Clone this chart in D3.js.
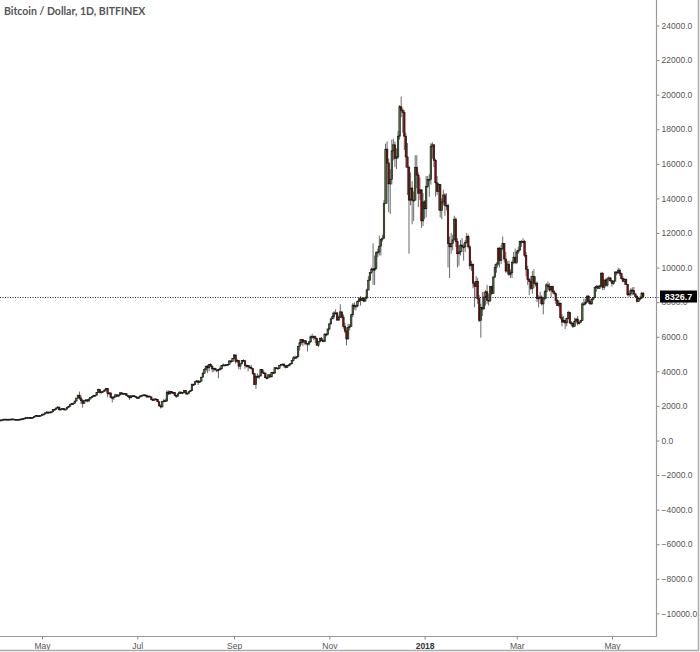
<!DOCTYPE html>
<html>
<head>
<meta charset="utf-8">
<script src="https://cdn.jsdelivr.net/npm/d3@7/dist/d3.min.js"></script>
<style>
  html, body { margin: 0; padding: 0; background: #fff; }
  svg { display: block; }
</style>
</head>
<body>
<svg id="chart" width="700" height="652"></svg>
<script>
// ---------- DATA (Bitcoin / Dollar, 1D, BITFINEX) ----------
const title = "Bitcoin / Dollar, 1D, BITFINEX";
const firstDay = "2017-04-03";
const firstOpen = 1150;
const lastPrice = 8326.7;

const closes = [
  // Apr 2017
  1180,1190,1175,1230,1235,1220,1230,1235,1240,1245,1205,1220,1222,1225,1240,1255,1262,1300,1322,1312,1320,1318,1340,1385,1440,1420,1432,1452,
  // May 2017
  1520,1530,1600,1640,1620,1645,1660,1790,1800,1880,1930,1780,1820,1840,1780,1820,1900,1980,2090,2130,2150,2280,2450,2620,2450,2300,2150,2300,2350,2280,2400,
  // Jun 2017
  2500,2540,2600,2620,2780,2950,2780,2820,2840,2920,3000,2720,2750,2500,2480,2520,2640,2560,2630,2760,2690,2710,2720,2600,2570,2470,2580,2590,2560,2500,
  // Jul 2017
  2440,2520,2580,2600,2640,2620,2520,2570,2520,2360,2340,2400,2370,2240,2000,1940,2250,2300,2280,2800,2700,2830,2760,2770,2600,2560,2700,2800,2730,2780,2890,
  // Aug 2017
  2740,2720,2820,2880,3250,3230,3400,3450,3350,3430,3660,3880,4100,4300,4200,4400,4300,4140,4180,4080,4050,4100,4150,4340,4370,4360,4380,4400,4600,4580,4740,
  // Sep 2017
  4950,4580,4630,4300,4430,4630,4610,4330,4330,4260,4220,4160,3880,3240,3700,3710,3730,4100,3920,3900,3630,3620,3800,3680,3930,3890,4210,4190,4170,4340,
  // Oct 2017
  4400,4410,4320,4230,4330,4370,4440,4620,4780,4790,4840,5440,5650,5830,5690,5770,5600,5580,5710,6000,6010,6000,5900,5510,5730,5890,5770,5740,6150,6130,6450,
  // Nov 2017
  6740,7030,7160,7380,7380,6960,7130,7440,7140,6600,6330,5870,6530,6600,7270,7830,7740,7780,8040,8200,8100,8230,8060,8240,8700,9270,9720,9920,9850,9950,
  // Dec 2017
  10860,10900,11240,11640,11700,13700,16850,16050,14840,15100,16750,17100,16300,16400,17600,19300,19100,18960,17600,16400,15800,13900,14600,13900,13900,15800,15350,14300,14500,12700,13800,
  // Jan 2018
  13400,14700,15100,15100,17000,17100,16200,14900,14400,14800,13300,13800,14200,13600,13600,11400,11200,11400,11600,12800,11500,10800,10900,11300,11200,11200,11450,11800,11200,10100,10200,
  // Feb 2018
  9100,8900,9200,8200,6950,7700,7600,8300,8600,8100,8100,8900,8500,9450,10000,10200,11100,10400,11100,11400,10500,9800,10200,9600,9700,10300,10600,10300,
  // Mar 2018
  10900,11000,11500,11500,11500,10700,9900,9300,9200,8800,9500,9100,9100,8200,8250,8300,7900,8200,8600,9000,8900,8700,8900,8600,8500,8100,7800,7950,7100,6850,6930,
  // Apr 2018
  6800,7050,7400,6800,6780,6600,6900,7020,6770,6830,6930,7900,7900,8000,8350,8050,7900,8170,8280,8850,8900,8800,8930,9650,8860,9280,8980,9340,9400,9240,
  // May 2018
  9070,9220,9740,9700,9850,9650,9380,9200,9300,9020,8430,8480,8700,8680,8480,8340,8050,8230,8230,8520,8326.7
];

const highs = [
  1195,1200,1200,1240,1245,1240,1240,1245,1250,1255,1250,1230,1235,1235,1250,1265,1275,1310,1335,1330,1330,1330,1350,1395,1460,1450,1440,1460,
  1530,1550,1610,1700,1680,1660,1680,1800,1850,1900,1990,1950,1850,1860,1850,1840,1910,2000,2100,2160,2200,2300,2460,2650,2830,2600,2400,2340,2380,2400,2420,
  2510,2560,2620,2640,2800,3000,2980,2850,2880,2960,3010,3000,2800,2780,2560,2560,2680,2660,2660,2800,2800,2760,2750,2730,2640,2620,2620,2620,2620,2580,
  2540,2540,2620,2650,2660,2660,2640,2580,2580,2540,2420,2430,2450,2400,2250,2080,2270,2400,2420,2900,2900,2880,2850,2800,2780,2620,2710,2840,2820,2790,2900,
  2920,2760,2830,2930,3300,3290,3420,3490,3470,3450,3680,3980,4200,4320,4380,4420,4480,4350,4200,4200,4120,4150,4280,4360,4460,4400,4420,4440,4650,4650,4760,
  4980,4950,4720,4630,4480,4650,4700,4640,4390,4330,4370,4370,4180,3900,3800,3870,3800,4130,4130,4050,3920,3750,3830,3800,3950,3980,4220,4240,4220,4360,
  4420,4470,4470,4350,4370,4420,4470,4630,4880,4920,4880,5450,5860,5850,5860,5790,5780,5640,5740,6080,6180,6080,6060,5900,5750,5980,6000,5820,6200,6220,6460,
  6800,7100,7400,7480,7590,7420,7230,7880,7450,7300,6800,6550,6750,6740,7330,7950,8000,7850,8100,8300,8350,8290,8290,8330,8780,9500,9740,10000,11400,10700,
  10950,11100,11850,11650,11900,13900,17170,17300,16300,15700,17400,17450,17300,16900,17900,19400,19890,19200,19100,17800,17200,15900,15500,15000,14400,16500,16500,15500,15200,14500,14300,
  13900,15300,15300,15400,17200,17250,17100,16300,15300,14900,14800,14000,14500,14300,14300,13700,11800,12000,11900,13000,12900,11700,11300,11600,11700,11400,11600,12000,11900,11300,10400,
  10200,9200,9500,9400,8400,7900,8600,8600,8700,9000,8500,8900,8950,9500,10200,10300,11200,11200,11300,11800,11300,10900,10400,10400,9900,10400,10900,11100,
  11000,11200,11550,11600,11700,11600,10900,10100,9400,9500,9800,9900,9500,9200,8400,8600,8400,8300,8700,9100,9200,9100,8950,8950,8700,8550,8200,8100,7950,7300,7200,
  7050,7100,7500,7450,6900,6850,7100,7100,7200,6900,6980,8000,8200,8200,8400,8400,8150,8240,8300,8900,9000,9000,9000,9750,9750,9300,9380,9440,9500,9450,
  9250,9250,9800,9800,9990,9950,9700,9500,9380,9380,9020,8650,8800,8860,8880,8500,8400,8280,8360,8600,8580
];

const lows = [
  1145,1165,1160,1170,1220,1210,1215,1220,1230,1235,1195,1200,1210,1215,1220,1235,1245,1255,1295,1295,1300,1305,1310,1335,1380,1400,1410,1420,
  1440,1480,1520,1580,1560,1600,1630,1650,1760,1790,1860,1720,1750,1800,1740,1760,1800,1890,1970,2060,2080,2140,2270,2440,2350,2100,1900,2150,2250,2200,2250,
  2380,2460,2500,2560,2610,2760,2720,2700,2800,2830,2900,2500,2640,2450,2200,2350,2480,2540,2540,2620,2650,2640,2690,2560,2500,2350,2440,2540,2530,2470,
  2400,2400,2500,2560,2570,2580,2480,2480,2500,2320,2280,2290,2340,2220,1980,1850,1930,2200,2240,2270,2620,2650,2700,2700,2560,2460,2540,2700,2700,2680,2760,
  2650,2650,2700,2800,2870,3180,3200,3360,3210,3330,3420,3650,3870,4000,3900,4000,4260,3950,3970,4050,3950,3600,4050,4100,4300,4330,4320,4330,4380,4500,4570,
  4730,4450,4480,4120,4100,4420,4550,4150,4220,4000,4150,4100,3800,3200,2980,3600,3550,3720,3870,3870,3600,3540,3600,3650,3680,3870,3890,4140,4100,4140,
  4280,4360,4200,4170,4190,4300,4340,4420,4570,4740,4720,4830,5200,5530,5450,5550,5500,5150,5490,5640,5880,5790,5630,5480,5400,5650,5740,5690,5700,6020,6080,
  6370,6720,7030,7060,7300,6950,6930,7080,7050,6470,6200,5500,5860,6370,6620,7130,7570,7520,7700,8000,7800,8100,8000,8040,8180,8690,9240,9640,9000,9000,
  9900,10600,10700,10700,11500,11700,13700,13700,13200,13100,14800,16200,15800,15700,16300,17400,18700,17800,16800,15800,14200,10800,13600,12500,12700,13900,14600,13500,13900,12300,12400,
  12800,12900,14600,14100,14800,16300,15800,14100,14200,13300,12900,12800,13600,13000,13300,10000,9400,10800,11000,11600,11200,10000,10100,10700,10900,10400,10900,11400,11100,9900,9800,
  8800,7700,8200,7900,6850,5950,7200,7600,7800,7900,7800,8000,8400,8500,9400,9700,10100,10000,10200,11000,10300,9700,9600,9500,9400,9400,10200,10200,
  10200,10800,11000,11200,11400,10600,9500,9000,8400,8700,8500,8800,8900,8000,7700,7900,7800,7300,8100,8200,8800,8600,8300,8500,8400,7900,7800,7700,7000,6600,6800,
  6450,6600,7000,6750,6600,6500,6580,6900,6650,6700,6800,6900,7800,7820,8000,7900,7850,7850,8100,8220,8600,8750,8780,8900,8700,8700,8900,8900,9200,9150,
  8900,9000,9200,9550,9650,9500,9300,9150,9000,9000,8350,8300,8350,8400,8400,8250,7980,8000,8100,8200,8250
];

const yTicks = [-10000,-8000,-6000,-4000,-2000,0,2000,4000,6000,8000,10000,12000,14000,16000,18000,20000,22000,24000];
const xTickDates = ["2017-05-01","2017-07-01","2017-09-01","2017-11-01","2018-01-01","2018-03-01","2018-05-01"];
const xTickLabels = ["May","Jul","Sep","Nov","2018","Mar","May"];

// ---------- BUILD ----------
const parse = d3.utcParse("%Y-%m-%d");
const t0 = parse(firstDay);
const candles = closes.map((c, i) => ({
  date: d3.utcDay.offset(t0, i),
  open: i === 0 ? firstOpen : closes[i - 1],
  high: highs[i],
  low: lows[i],
  close: c
}));

const W = 700, H = 652;
const plotRight = 656, plotBottom = 636;

const x = d3.scaleUtc()
  .domain([parse("2017-05-01"), parse("2018-05-01")])
  .range([42, 612]);
const y = d3.scaleLinear()
  .domain([0, 24000])
  .range([440.5, 25.5]);

const svg = d3.select("#chart");
svg.append("rect").attr("width", W).attr("height", H).attr("fill", "#fff");

svg.append("defs").append("clipPath").attr("id", "plotclip")
  .append("rect").attr("x", 0).attr("y", 0).attr("width", plotRight).attr("height", plotBottom);

const plot = svg.append("g").attr("clip-path", "url(#plotclip)");

const green = "#4e7d3a", red = "#a80000";
const bodyW = 1.5;

// wicks
plot.append("g").selectAll("line").data(candles).join("line")
  .attr("x1", d => x(d.date)).attr("x2", d => x(d.date))
  .attr("y1", d => y(Math.max(d.high, d.open, d.close)))
  .attr("y2", d => y(Math.min(d.low, d.open, d.close)))
  .attr("stroke", "#6a6a6a").attr("stroke-width", 1);

// bodies
plot.append("g").selectAll("rect").data(candles).join("rect")
  .attr("x", d => x(d.date) - bodyW / 2)
  .attr("width", bodyW)
  .attr("y", d => y(Math.max(d.open, d.close)))
  .attr("height", d => Math.max(1, Math.abs(y(d.open) - y(d.close))))
  .attr("fill", d => d.close >= d.open ? green : red)
  .attr("stroke", "#111").attr("stroke-width", 0.6);

// last price dotted line
svg.append("line")
  .attr("x1", 0).attr("x2", 661)
  .attr("y1", Math.round(y(lastPrice)) + 0.5).attr("y2", Math.round(y(lastPrice)) + 0.5)
  .attr("stroke", "#222").attr("stroke-width", 1).attr("stroke-dasharray", "1,1.5");

// right axis
const yAxis = d3.axisRight(y).tickValues(yTicks).tickSize(3).tickPadding(2)
  .tickFormat(d => d3.format(".1f")(d));
const gy = svg.append("g").attr("transform", `translate(${plotRight + 0.5},0)`).call(yAxis);
gy.select(".domain").remove();
gy.selectAll(".tick line").attr("stroke", "#888");
gy.selectAll(".tick text").attr("fill", "#555")
  .style("font-family", "'Liberation Sans', Arial, sans-serif").style("font-size", "8.5px");

// bottom axis
const xAxis = d3.axisBottom(x).tickValues(xTickDates.map(parse)).tickSize(3).tickPadding(3)
  .tickFormat((d, i) => xTickLabels[i]);
const gx = svg.append("g").attr("transform", `translate(0,${plotBottom + 0.5})`).call(xAxis);
gx.select(".domain").remove();
gx.selectAll(".tick line").attr("stroke", "#888");
gx.selectAll(".tick text").attr("fill", (d, i) => xTickLabels[i] === "2018" ? "#333" : "#555")
  .style("font-family", "'Liberation Sans', Arial, sans-serif").style("font-size", "8.5px")
  .style("font-weight", (d, i) => xTickLabels[i] === "2018" ? "bold" : "normal");

// axis lines and frame
svg.append("line").attr("x1", plotRight + 0.5).attr("x2", plotRight + 0.5).attr("y1", 0).attr("y2", plotBottom + 1)
  .attr("stroke", "#999").attr("stroke-width", 1.2);
svg.append("line").attr("x1", 0).attr("x2", plotRight + 1).attr("y1", plotBottom + 0.5).attr("y2", plotBottom + 0.5)
  .attr("stroke", "#999").attr("stroke-width", 1.2);
svg.append("line").attr("x1", 698.5).attr("x2", 698.5).attr("y1", 0).attr("y2", 651)
  .attr("stroke", "#aaa").attr("stroke-width", 1.5);
svg.append("line").attr("x1", 0).attr("x2", 699).attr("y1", 650.5).attr("y2", 650.5)
  .attr("stroke", "#aaa").attr("stroke-width", 1.5);

// last price label
const ly = y(lastPrice);
svg.append("rect").attr("x", 660).attr("y", ly - 6).attr("width", 37).attr("height", 12).attr("fill", "#000");
svg.append("text").attr("x", 678.5).attr("y", ly + 3.5).attr("text-anchor", "middle")
  .attr("fill", "#fff").style("font-family", "'Liberation Sans', Arial, sans-serif")
  .style("font-size", "9px").style("font-weight", "bold").text(lastPrice.toFixed(1));

// title
svg.append("text").attr("x", 4).attr("y", 15)
  .attr("fill", "#555").style("font-family", "Lato, 'Open Sans', sans-serif")
  .style("font-size", "10.5px").style("font-weight", "bold").text(title);
</script>
</body>
</html>
